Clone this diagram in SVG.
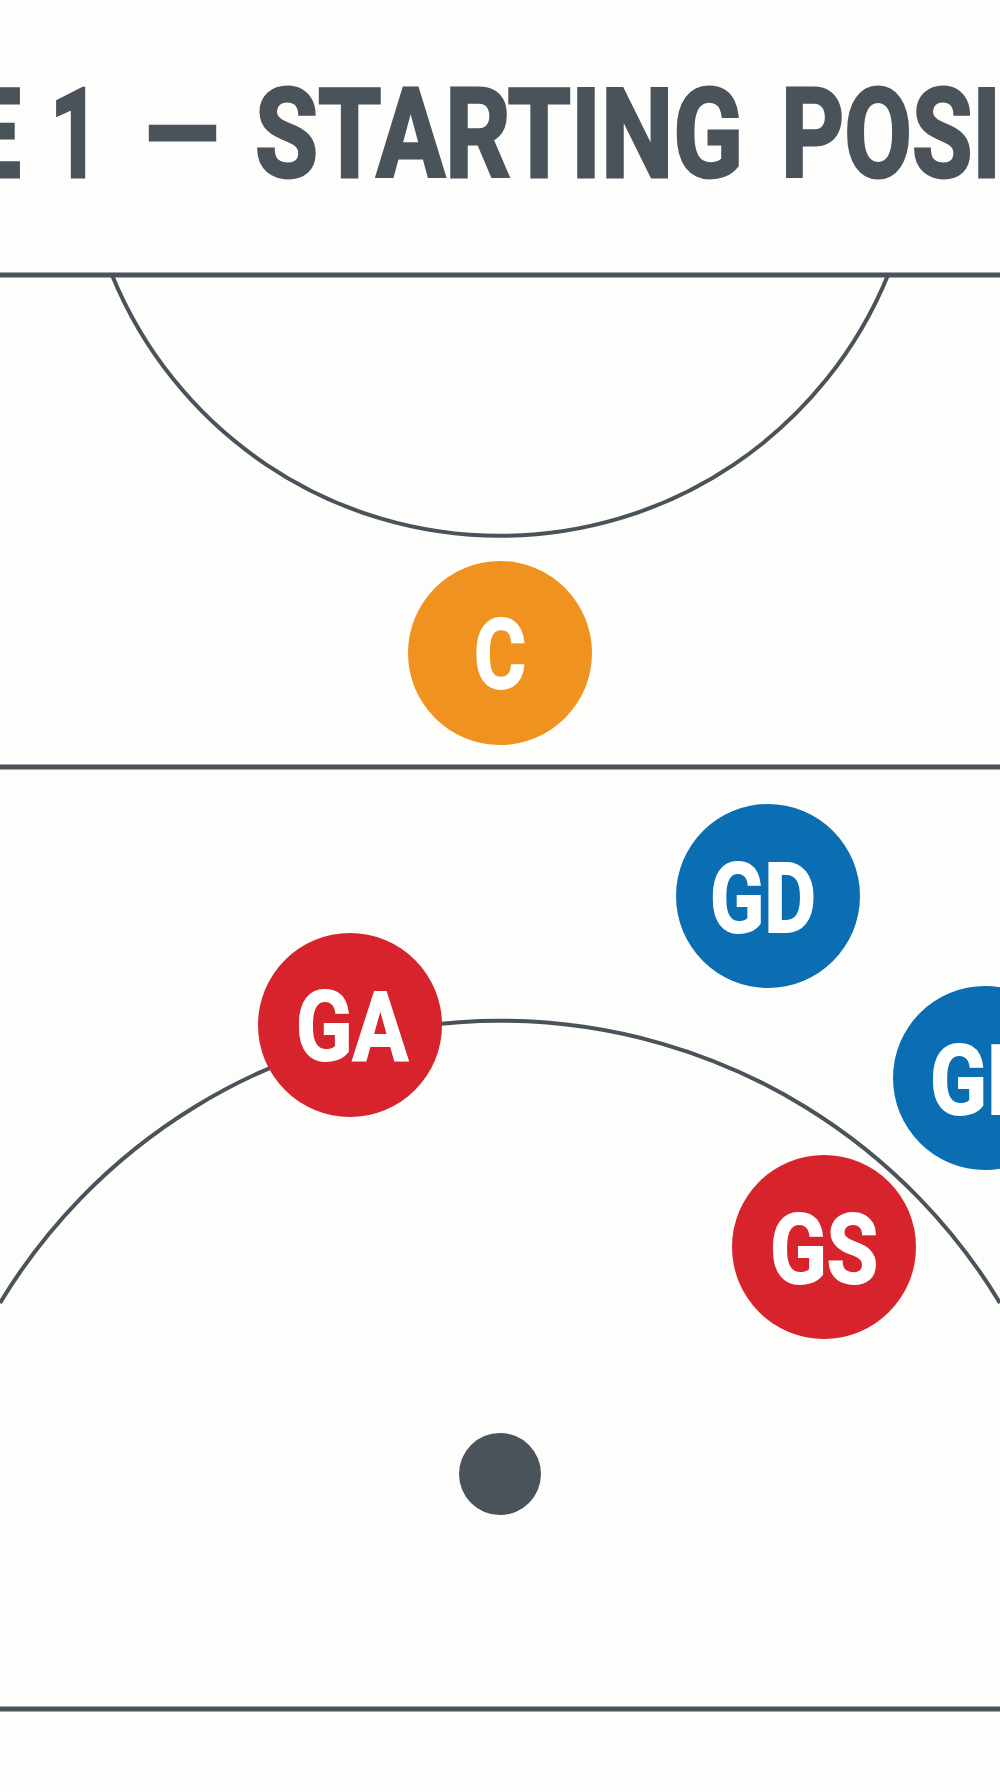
<svg xmlns="http://www.w3.org/2000/svg" width="1000" height="1792" viewBox="0 0 1000 1792">
  <style>
    .ink { fill: #4b535a; }
    .line { stroke: #4b535a; stroke-width: 5; fill: none; }
    .arc { stroke: #4b535a; stroke-width: 4; fill: none; }
    .title { fill: #4b535a; stroke: #4b535a; stroke-width: 3; stroke-linejoin: miter; stroke-miterlimit: 2; }
    .lbl { fill: #ffffff; stroke: #ffffff; stroke-width: 2; stroke-linejoin: miter; stroke-miterlimit: 2; text-anchor: middle; }
    .red { fill: #d7232b; }
    .blue { fill: #0b6db2; }
    .orange { fill: #f0921f; }
  </style>
  <rect width="1000" height="1792" fill="#fdfdfc"/>

  <g id="title" font-family="Roboto, 'Noto Sans', 'Liberation Sans', sans-serif" font-weight="700" font-size="124">
    <text class="title" x="21" y="177" text-anchor="end" textLength="60" lengthAdjust="spacingAndGlyphs">E</text>
    <text class="title" x="50" y="177" textLength="50" lengthAdjust="spacingAndGlyphs">1</text>
    <text class="title" x="141" y="177" textLength="80" lengthAdjust="spacingAndGlyphs">–</text>
    <text class="title" x="255" y="177" textLength="488" lengthAdjust="spacingAndGlyphs">STARTING</text>
    <text class="title" x="781" y="177" textLength="220" lengthAdjust="spacingAndGlyphs">POSI</text>
  </g>

  <g id="court">
    <line class="line" x1="0" y1="275" x2="1000" y2="275"/>
    <line class="line" x1="0" y1="767" x2="1000" y2="767"/>
    <line class="line" x1="0" y1="1709" x2="1000" y2="1709"/>
    <path class="arc" d="M 112 275 A 419 419 0 0 0 888 275"/>
    <path class="arc" d="M 0 1303 A 584 584 0 0 1 1000 1303"/>
    <circle id="ball-spot" class="ink" cx="500" cy="1474" r="41"/>
  </g>

  <g id="connectors"></g>

  <g font-family="Roboto, 'Noto Sans', 'Liberation Sans', sans-serif" font-weight="700" font-size="96">
    <g id="node-C">
      <circle class="orange" cx="500" cy="653" r="92"/>
      <text class="lbl" x="500" y="688" textLength="52" lengthAdjust="spacingAndGlyphs">C</text>
    </g>
    <g id="node-GD">
      <circle class="blue" cx="768" cy="896" r="92"/>
      <text class="lbl" x="763" y="932" textLength="106" lengthAdjust="spacingAndGlyphs">GD</text>
    </g>
    <g id="node-GA">
      <circle class="red" cx="350" cy="1025" r="92"/>
      <text class="lbl" x="352" y="1060" textLength="112" lengthAdjust="spacingAndGlyphs">GA</text>
    </g>
    <g id="node-GK">
      <circle class="blue" cx="985" cy="1078" r="92"/>
      <text class="lbl" x="985" y="1114" textLength="110" lengthAdjust="spacingAndGlyphs">GK</text>
    </g>
    <g id="node-GS">
      <circle class="red" cx="824" cy="1247" r="92"/>
      <text class="lbl" x="824" y="1283" textLength="108" lengthAdjust="spacingAndGlyphs">GS</text>
    </g>
  </g>
</svg>
